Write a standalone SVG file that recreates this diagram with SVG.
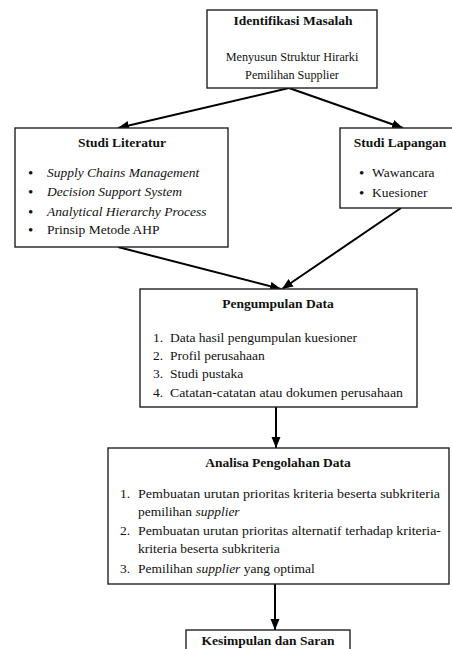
<svg xmlns="http://www.w3.org/2000/svg" width="452" height="649" viewBox="0 0 452 649">
<defs>
<marker id="ah" markerUnits="userSpaceOnUse" markerWidth="12" markerHeight="10" refX="11" refY="4.5" orient="auto">
<path d="M0,0 L11,4.5 L0,9 z" fill="#000"/>
</marker>
<style>
rect.box{fill:#fff;stroke:#222;stroke-width:1.4}
text{font-family:"Liberation Serif","Times New Roman",serif;font-size:13.5px;fill:#111}
.t{font-weight:bold;text-anchor:middle}
.c{text-anchor:middle;font-size:12.2px}
.i{font-style:italic}
.b{font-size:15px}
.conn line{stroke:#000;stroke-width:2}
</style>
</defs>
<rect width="452" height="649" fill="#fff"/>
<g class="conn">
<line x1="289" y1="88" x2="118" y2="128" marker-end="url(#ah)"/>
<line x1="289" y1="88" x2="403" y2="128" marker-end="url(#ah)"/>
<line x1="118" y1="247" x2="281" y2="289" marker-end="url(#ah)"/>
<line x1="401" y1="208" x2="282" y2="289" marker-end="url(#ah)"/>
<line x1="276" y1="407" x2="276" y2="448" marker-end="url(#ah)"/>
<line x1="275" y1="584" x2="275" y2="630" marker-end="url(#ah)"/>
</g>
<g id="identifikasi">
<rect class="box" x="207" y="10" width="170" height="78"/>
<text class="t" x="293" y="25">Identifikasi Masalah</text>
<text class="c" x="292" y="61">Menyusun Struktur Hirarki</text>
<text class="c" x="292" y="79">Pemilihan Supplier</text>
</g>
<g id="literatur">
<rect class="box" x="15" y="128" width="213" height="119"/>
<text class="t" x="122" y="147">Studi Literatur</text>
<text class="b" x="28" y="178">•</text><text class="i" x="47" y="177">Supply Chains Management</text>
<text class="b" x="28" y="197">•</text><text class="i" x="47" y="196">Decision Support System</text>
<text class="b" x="28" y="217">•</text><text class="i" x="47" y="216">Analytical Hierarchy Process</text>
<text class="b" x="28" y="235">•</text><text x="47" y="234">Prinsip Metode AHP</text>
</g>
<g id="lapangan">
<rect class="box" x="340" y="128" width="116" height="80"/>
<text class="t" x="400" y="147">Studi Lapangan</text>
<text class="b" x="359" y="178">•</text><text x="372" y="177">Wawancara</text>
<text class="b" x="359" y="198">•</text><text x="372" y="197">Kuesioner</text>
</g>
<g id="pengumpulan">
<rect class="box" x="140" y="289" width="277" height="118"/>
<text class="t" x="278" y="308">Pengumpulan Data</text>
<text x="153" y="342">1.</text><text x="170" y="342">Data hasil  pengumpulan kuesioner</text>
<text x="153" y="360">2.</text><text x="170" y="360">Profil perusahaan</text>
<text x="153" y="378">3.</text><text x="170" y="378">Studi pustaka</text>
<text x="153" y="397">4.</text><text x="170" y="397" textLength="233" lengthAdjust="spacingAndGlyphs">Catatan-catatan atau dokumen perusahaan</text>
</g>
<g id="analisa">
<rect class="box" x="108" y="448" width="341" height="136"/>
<text class="t" x="278" y="467">Analisa Pengolahan Data</text>
<text x="120" y="498">1.</text><text x="138" y="498" textLength="302" lengthAdjust="spacingAndGlyphs">Pembuatan urutan prioritas kriteria beserta subkriteria</text>
<text x="138" y="516">pemilihan <tspan class="i">supplier</tspan></text>
<text x="120" y="535">2.</text><text x="138" y="535" textLength="303" lengthAdjust="spacingAndGlyphs">Pembuatan urutan prioritas alternatif terhadap kriteria-</text>
<text x="138" y="553">kriteria beserta subkriteria</text>
<text x="120" y="573">3.</text><text x="138" y="573">Pemilihan <tspan class="i">supplier</tspan> yang optimal</text>
</g>
<g id="kesimpulan">
<rect class="box" x="186" y="630" width="164" height="30"/>
<text class="t" x="268" y="645">Kesimpulan dan Saran</text>
</g>
</svg>
